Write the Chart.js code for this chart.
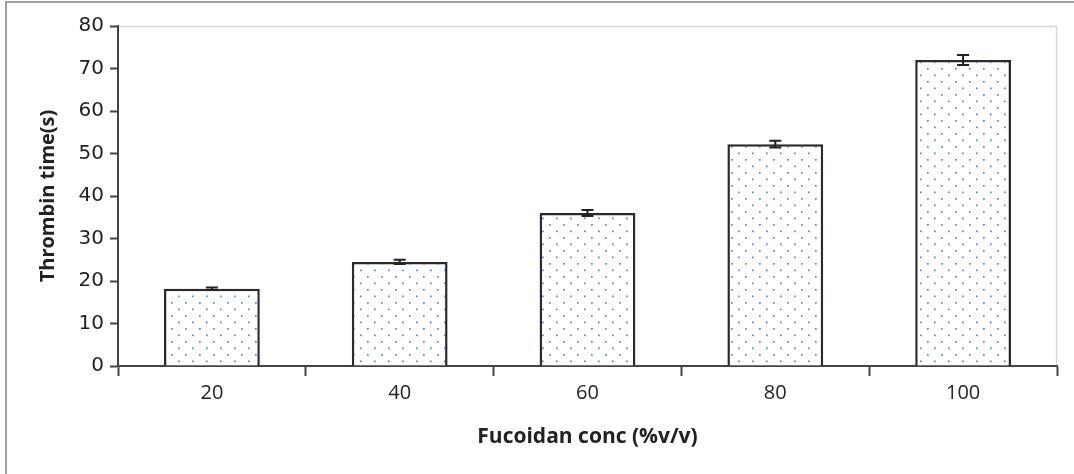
<!DOCTYPE html>
<html>
<head>
<meta charset="utf-8">
<script src="https://cdn.jsdelivr.net/npm/chart.js@4.4.1/dist/chart.umd.min.js"></script>
<style>
  html, body { margin: 0; padding: 0; background: #fff; }
  #wrap { width: 1074px; height: 474px; }
</style>
</head>
<body>
<div id="wrap"><canvas id="thrombinChart" width="1074" height="474"></canvas></div>
<script>
// data
const concLabels = ['20', '40', '60', '80', '100'];
const thrombinTime = [18.2, 24.5, 36.0, 52.2, 72.0];
const thrombinErr = [0.3, 0.5, 0.7, 0.8, 1.2];

// dotted fill like the original
function makeDotPattern() {
    const c = document.createElement('canvas');
    c.width = 14;
    c.height = 13;
    const g = c.getContext('2d');
    g.fillStyle = '#fff';
    g.fillRect(0, 0, 14, 13);
    g.fillStyle = 'rgba(75, 120, 200, 0.9)';
    g.fillRect(3, 3, 1.7, 1.7);
    g.fillRect(10, 9.5, 1.7, 1.7);
    return g.createPattern(c, 'repeat');
}

// frame, plot border and error bars
const extras = {
    id: 'extras',
    beforeDraw(chart) {
        const ctx = chart.ctx;
        const a = chart.chartArea;
        ctx.save();
        ctx.strokeStyle = '#a0a0a0';
        ctx.lineWidth = 2;
        ctx.beginPath();
        ctx.moveTo(6, 474);
        ctx.lineTo(6, 2);
        ctx.lineTo(1074, 2);
        ctx.stroke();

        ctx.strokeStyle = '#d9d9d9';
        ctx.lineWidth = 1.5;
        ctx.beginPath();
        ctx.moveTo(a.left, a.top + 0.5);
        ctx.lineTo(a.right - 0.5, a.top + 0.5);
        ctx.lineTo(a.right - 0.5, a.bottom);
        ctx.stroke();
        ctx.restore();
    },
    afterDatasetsDraw(chart) {
        const ctx = chart.ctx;
        const x = chart.scales.x;
        const y = chart.scales.y;
        ctx.save();
        ctx.strokeStyle = '#222';
        ctx.lineWidth = 2;
        thrombinTime.forEach((v, i) => {
            const cx = x.getPixelForValue(i);
            const yHi = y.getPixelForValue(v + thrombinErr[i]);
            const yLo = y.getPixelForValue(v - thrombinErr[i]);
            ctx.beginPath();
            ctx.moveTo(cx, yHi);
            ctx.lineTo(cx, yLo);
            ctx.moveTo(cx - 6, yHi);
            ctx.lineTo(cx + 6, yHi);
            ctx.moveTo(cx - 6, yLo);
            ctx.lineTo(cx + 6, yLo);
            ctx.stroke();
        });
        ctx.restore();
    }
};

const ctx = document.getElementById('thrombinChart').getContext('2d');

new Chart(ctx, {
    type: 'bar',
    data: {
        labels: concLabels,
        datasets: [{
            label: 'Thrombin time(s)',
            data: thrombinTime,
            backgroundColor: makeDotPattern(),
            borderColor: '#2a2a2a',
            borderWidth: 2.5,
            categoryPercentage: 1,
            barPercentage: 0.51
        }]
    },
    options: {
        responsive: false,
        animation: false,
        layout: {
            padding: { left: 0, top: 26, right: 17, bottom: 0 }
        },
        plugins: {
            legend: { display: false },
            tooltip: { enabled: false }
        },
        scales: {
            x: {
                offset: true,
                afterFit(scale) { scale.height = 108; },
                border: { display: true, color: '#444', width: 2 },
                grid: {
                    offset: true,
                    drawOnChartArea: false,
                    drawTicks: true,
                    tickLength: 10,
                    tickWidth: 2,
                    tickColor: '#444'
                },
                ticks: {
                    color: '#222',
                    padding: 5,
                    font: { family: "'Open Sans', sans-serif", size: 20 }
                },
                title: {
                    display: true,
                    text: 'Fucoidan conc (%v/v)',
                    color: '#222',
                    padding: { top: 0, bottom: 24 },
                    font: { family: "'Open Sans', sans-serif", size: 21, weight: 'bold' }
                }
            },
            y: {
                min: 0,
                max: 80,
                afterFit(scale) { scale.width = 118; },
                border: { display: true, color: '#444', width: 2 },
                grid: {
                    drawOnChartArea: false,
                    drawTicks: true,
                    tickLength: 8,
                    tickWidth: 2,
                    tickColor: '#444'
                },
                ticks: {
                    stepSize: 10,
                    color: '#222',
                    padding: 6,
                    font: { family: "'DejaVu Sans', sans-serif", size: 20 }
                },
                title: {
                    display: true,
                    text: 'Thrombin time(s)',
                    color: '#222',
                    padding: { top: 36, bottom: 0 },
                    font: { family: "'Open Sans', sans-serif", size: 20, weight: 'bold' }
                }
            }
        }
    },
    plugins: [extras]
});
</script>
</body>
</html>
